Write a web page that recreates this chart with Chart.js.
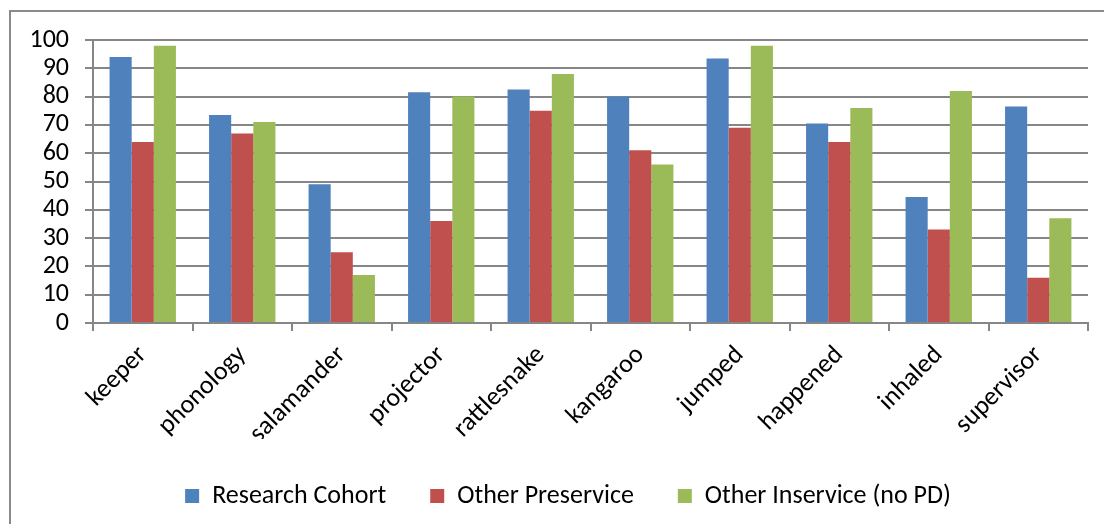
<!DOCTYPE html>
<html>
<head>
<meta charset="utf-8">
<script src="https://cdn.jsdelivr.net/npm/chart.js@4/dist/chart.umd.min.js"></script>
<style>
  html, body { margin: 0; padding: 0; background: #fff; }
  #wrap { position: relative; width: 1104px; height: 524px; overflow: hidden; }
  #frame { position: absolute; left: 9px; top: 10px; width: 1200px; height: 600px; border: 2px solid #8a8a8a; box-sizing: border-box; }
  canvas { position: absolute; left: 0; top: 0; }
</style>
</head>
<body>
<div id="wrap">
  <div id="frame"></div>
  <canvas id="myChart" width="1104" height="524"></canvas>
</div>
<script>
const words = ['keeper', 'phonology', 'salamander', 'projector', 'rattlesnake', 'kangaroo', 'jumped', 'happened', 'inhaled', 'supervisor'];
const researchCohort = [94, 73.5, 49, 81.5, 82.5, 80, 93.5, 70.5, 44.5, 76.5];
const otherPreservice = [64, 67, 25, 36, 75, 61, 69, 64, 33, 16];
const otherInservice = [98, 71, 17, 80, 88, 56, 98, 76, 82, 37];
const yTicks = [0, 10, 20, 30, 40, 50, 60, 70, 80, 90, 100];

const fontName = "Carlito, 'Liberation Sans', sans-serif";
const gridGray = '#868686';

// nudge the legend a bit right, like the original
const shiftLegend = {
  id: 'shiftLegend',
  afterLayout(chart) {
    chart.legend.left += 24;
    chart.legend.right += 24;
  }
};

const ctx = document.getElementById('myChart').getContext('2d');
const chart = new Chart(ctx, {
  type: 'bar',
  data: {
    labels: words,
    datasets: [
      { label: 'Research Cohort', data: researchCohort, backgroundColor: '#4F81BD' },
      { label: 'Other Preservice', data: otherPreservice, backgroundColor: '#C0504D' },
      { label: 'Other Inservice (no PD)', data: otherInservice, backgroundColor: '#9BBB59' }
    ]
  },
  options: {
    responsive: false,
    animation: false,
    devicePixelRatio: 1,
    layout: { padding: { left: 0, right: 16, top: 40, bottom: 5 } },
    datasets: {
      bar: { categoryPercentage: 0.667, barPercentage: 1.0 }
    },
    scales: {
      x: {
        grid: { drawOnChartArea: false, drawTicks: true, tickLength: 8, color: gridGray, lineWidth: 2 },
        border: { color: gridGray, width: 2 },
        ticks: {
          color: '#000',
          font: { family: fontName, size: 26 },
          minRotation: 45, maxRotation: 45,
          autoSkip: false,
          padding: 9
        },
        afterFit: function (scale) { scale.height = 116; }
      },
      y: {
        min: 0, max: 100,
        afterBuildTicks: function (scale) { scale.ticks = yTicks.map(v => ({ value: v })); },
        grid: { color: gridGray, lineWidth: 2, tickLength: 8 },
        border: { color: gridGray, width: 2 },
        ticks: {
          color: '#000',
          font: { family: fontName, size: 26 },
          autoSkip: false,
          padding: 16
        },
        afterFit: function (scale) { scale.width = 93; }
      }
    },
    plugins: {
      legend: {
        position: 'bottom',
        labels: {
          color: '#000',
          font: { family: fontName, size: 26 },
          boxWidth: 14,
          boxHeight: 14,
          padding: 44
        }
      },
      tooltip: { enabled: false }
    }
  },
  plugins: [shiftLegend]
});
</script>
</body>
</html>
